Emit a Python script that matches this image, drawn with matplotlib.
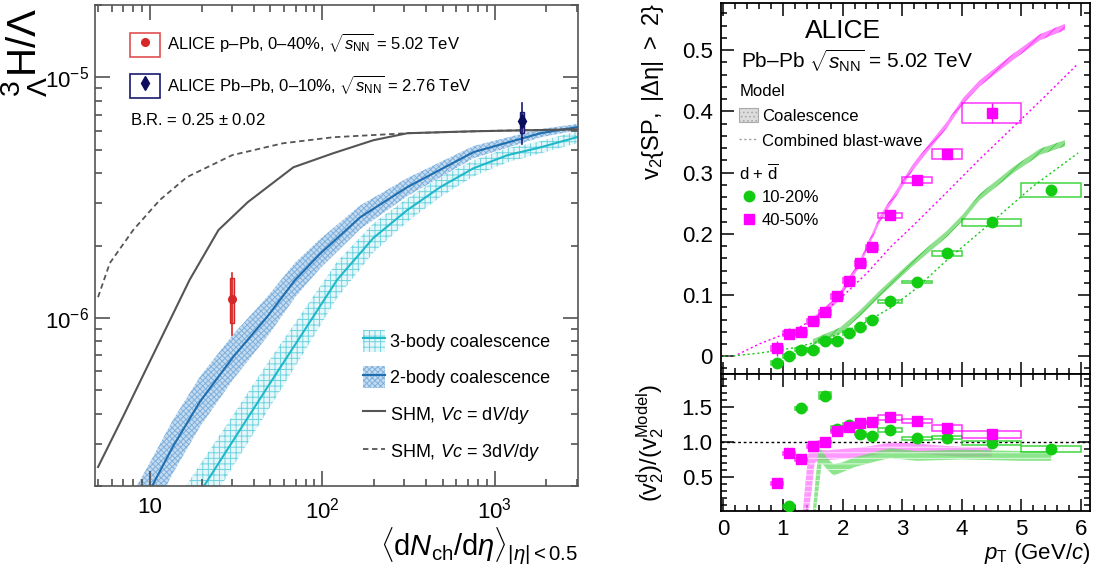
import numpy as np
import matplotlib.pyplot as plt
from matplotlib.patches import Rectangle
from matplotlib.lines import Line2D
from matplotlib.legend_handler import HandlerTuple
from matplotlib.ticker import MultipleLocator, NullFormatter

plt.rcParams['font.family'] = ['Liberation Sans', 'DejaVu Sans']
plt.rcParams['mathtext.fontset'] = 'custom'
plt.rcParams['mathtext.rm'] = 'Liberation Sans'
plt.rcParams['mathtext.it'] = 'Liberation Sans:italic'
plt.rcParams['mathtext.bf'] = 'Liberation Sans:bold'
plt.rcParams['hatch.linewidth'] = 0.7

# ---------------- left panel data ----------------
ppb_x = [30.0]
ppb_y = [1.2e-6]
ppb_stat = [(0.85e-6, 1.54e-6)]
ppb_sys = [(0.95e-6, 1.47e-6)]

pbpb_x = [1450.0]
pbpb_y = [6.6e-6]
pbpb_stat = [(5.3e-6, 7.8e-6)]
pbpb_sys = [(5.85e-6, 7.2e-6)]

shm_x = [5, 7, 10, 17, 25, 37, 68, 116, 198, 312, 755, 3000]
shm_y = [2.4e-7, 3.9e-7, 6.6e-7, 1.44e-6, 2.32e-6, 3.03e-6, 4.23e-6, 4.84e-6,
         5.48e-6, 5.86e-6, 5.97e-6, 6.08e-6]

shm3_x = [5, 5.85, 8, 11.4, 16.4, 30, 59, 116, 312, 1000, 3000]
shm3_y = [1.22e-6, 1.69e-6, 2.32e-6, 3.09e-6, 3.85e-6, 4.75e-6, 5.32e-6,
          5.64e-6, 5.86e-6, 6.0e-6, 6.08e-6]

body2_x = [7, 10.3, 13.6, 19.5, 30.4, 47.9, 69.7, 97.3, 166, 312, 755, 1849, 3000]
body2_y = [1.2e-7, 2.0e-7, 2.92e-7, 4.48e-7, 6.88e-7, 1.01e-6, 1.44e-6, 1.85e-6,
           2.62e-6, 3.50e-6, 4.89e-6, 5.86e-6, 6.21e-6]
body2_f = [1.32, 1.30, 1.29, 1.27, 1.24, 1.21, 1.18, 1.15, 1.12, 1.09, 1.06, 1.04, 1.03]

body3_x = [14, 20.6, 30.4, 47.9, 74.5, 122, 198, 312, 485, 755, 1191, 1849, 3000]
body3_y = [1.3e-7, 2.0e-7, 3.09e-7, 5.13e-7, 8.34e-7, 1.44e-6, 2.15e-6, 2.81e-6,
           3.50e-6, 4.19e-6, 4.75e-6, 5.12e-6, 5.64e-6]
body3_f = [1.32, 1.30, 1.28, 1.26, 1.23, 1.19, 1.15, 1.12, 1.10, 1.08, 1.07, 1.06, 1.06]

# ---------------- right panel data ----------------
pt_mag = [0.9, 1.1, 1.3, 1.5, 1.7, 1.9, 2.1, 2.3, 2.5, 2.8, 3.25, 3.75, 4.5]
v2_mag = [0.013, 0.037, 0.039, 0.057, 0.072, 0.098, 0.123, 0.152, 0.178, 0.230,
          0.288, 0.330, 0.397]
stat_mag = [0.012, 0.009, 0.006, 0.005, 0.004, 0.004, 0.004, 0.004, 0.004, 0.004,
            0.004, 0.006, 0.016]
sys_mag = [0.004, 0.004, 0.004, 0.004, 0.004, 0.004, 0.004, 0.004, 0.004, 0.004,
           0.005, 0.008, 0.016]
hw_mag = [0.1, 0.1, 0.1, 0.1, 0.1, 0.1, 0.1, 0.1, 0.1, 0.2, 0.25, 0.25, 0.5]

pt_grn = [0.9, 1.1, 1.3, 1.5, 1.7, 1.9, 2.1, 2.3, 2.5, 2.8, 3.25, 3.75, 4.5, 5.5]
v2_grn = [-0.011, 0.0, 0.011, 0.010, 0.025, 0.025, 0.038, 0.047, 0.060, 0.090,
          0.121, 0.168, 0.219, 0.271]
stat_grn = [0.007, 0.005, 0.004, 0.003, 0.003, 0.003, 0.003, 0.003, 0.003, 0.003,
            0.003, 0.003, 0.004, 0.006]
sys_grn = [0.003, 0.003, 0.003, 0.003, 0.003, 0.003, 0.003, 0.003, 0.003, 0.0025,
           0.002, 0.004, 0.0055, 0.0115]
hw_grn = [0.1, 0.1, 0.1, 0.1, 0.1, 0.1, 0.1, 0.1, 0.1, 0.2, 0.25, 0.25, 0.5, 0.5]

coal_mag_pt = [1.5, 1.9, 2.29, 2.63, 3.18, 3.75, 4.03, 4.3, 4.86, 5.31, 5.73]
coal_mag_v2 = [0.058, 0.092, 0.152, 0.225, 0.309, 0.378, 0.418, 0.446, 0.489, 0.521, 0.538]
coal_grn_pt = [1.5, 1.96, 2.29, 2.63, 3.15, 3.75, 4.02, 4.3, 4.86, 5.31, 5.73]
coal_grn_v2 = [0.023, 0.042, 0.070, 0.103, 0.150, 0.200, 0.227, 0.260, 0.304, 0.334, 0.348]

bw_mag_pt = [0, 0.2, 0.6, 1.2, 1.6, 2.0, 2.4, 2.8, 3.2, 3.75, 4.3, 4.9, 5.4, 5.95]
bw_mag_v2 = [0, 0.001, 0.020, 0.043, 0.066, 0.098, 0.135, 0.178, 0.215, 0.268,
             0.322, 0.378, 0.425, 0.478]
bw_grn_pt = [0, 0.2, 0.6, 1.2, 1.6, 2.0, 2.4, 2.8, 3.2, 3.75, 4.5, 5.2, 5.95]
bw_grn_v2 = [0, 0.001, 0.005, 0.014, 0.024, 0.039, 0.056, 0.079, 0.108, 0.157,
             0.219, 0.278, 0.332]

# ratio panel
rat_pt_mag = [0.9, 1.1, 1.3, 1.5, 1.7, 1.9, 2.1, 2.3, 2.5, 2.8, 3.25, 3.75, 4.5]
rat_mag = [0.41, 0.84, 0.75, 0.94, 1.0, 1.15, 1.21, 1.27, 1.28, 1.35, 1.30, 1.20, 1.11]
rat_mag_sys = [0.02, 0.02, 0.02, 0.02, 0.02, 0.02, 0.02, 0.02, 0.02, 0.03, 0.03, 0.04, 0.05]
rat_pt_grn = [1.1, 1.3, 1.7, 1.9, 2.1, 2.3, 2.5, 2.8, 3.25, 3.75, 4.5, 5.5]
rat_grn = [0.08, 1.48, 1.66, 1.19, 1.24, 1.12, 1.09, 1.17, 1.05, 1.06, 0.98, 0.90]
rat_grn_sys = [0.02, 0.02, 0.05, 0.04, 0.03, 0.02, 0.02, 0.03, 0.02, 0.02, 0.03, 0.04]
rat_hw_grn = [0.1, 0.1, 0.1, 0.1, 0.1, 0.1, 0.1, 0.2, 0.25, 0.25, 0.5, 0.5]

rband_mag_pt = [1.33, 1.38, 1.43, 1.48, 1.53, 1.6, 1.75, 2.0, 2.3, 2.6, 2.8, 3.25, 3.6, 4.0, 4.5]
rband_mag_hi = [0.0, 0.45, 0.85, 0.90, 0.90, 0.89, 0.88, 0.90, 0.92, 0.96, 0.99, 0.98, 0.95, 0.93, 0.93]
rband_mag_lo = [0.0, 0.0, 0.0, 0.30, 0.70, 0.74, 0.74, 0.76, 0.78, 0.82, 0.85, 0.84, 0.81, 0.79, 0.79]
rband_grn_pt = [1.50, 1.55, 1.60, 1.65, 1.75, 1.85, 2.0, 2.2, 2.5, 2.8, 3.25, 4.0, 4.5, 5.0, 5.5]
rband_grn_hi = [0.0, 0.5, 0.9, 0.88, 0.76, 0.68, 0.71, 0.78, 0.85, 0.91, 0.87, 0.89, 0.88, 0.87, 0.87]
rband_grn_lo = [0.0, 0.0, 0.35, 0.70, 0.60, 0.52, 0.57, 0.64, 0.71, 0.77, 0.73, 0.75, 0.74, 0.73, 0.73]

MAG = '#ff00ff'
GRN = '#11cc11'

fig = plt.figure(figsize=(11.01, 5.74), dpi=100)
W, H = 1101, 574
ax1 = fig.add_axes([95 / W, 1 - 486 / H, 483 / W, 481 / H])
ax2 = fig.add_axes([721 / W, 1 - 374 / H, 369 / W, 371 / H])
ax3 = fig.add_axes([721 / W, 1 - 511 / H, 369 / W, 137 / H])

# ================= left panel =================
ax1.set_xscale('log')
ax1.set_yscale('log')

b3x = np.array(body3_x); b3y = np.array(body3_y); b3f = np.array(body3_f)
band3 = ax1.fill_between(b3x, b3y / b3f, b3y * b3f, facecolor='#e6f7fa',
                         edgecolor='#6fd3e0', hatch='+++', linewidth=0)
line3, = ax1.plot(b3x, b3y, color='#1fb8c9', lw=1.5)

b2x = np.array(body2_x); b2y = np.array(body2_y); b2f = np.array(body2_f)
band2 = ax1.fill_between(b2x, b2y / b2f, b2y * b2f, facecolor='#c5dcf0',
                         edgecolor='#7fb0dc', hatch='xxxxxx', linewidth=0)
line2, = ax1.plot(b2x, b2y, color='#1f6eb0', lw=1.5)

shm1, = ax1.plot(shm_x, shm_y, color='#555555', lw=1.5)
shm3, = ax1.plot(shm3_x, shm3_y, color='#555555', lw=1.3, ls=(0, (3, 2)))

for x, y, st, sy in zip(ppb_x, ppb_y, ppb_stat, ppb_sys):
    ax1.add_patch(Rectangle((x * 0.975, sy[0]), x * 0.05, sy[1] - sy[0],
                            facecolor='#eba3a3', edgecolor='#d62728', lw=1, zorder=4))
    ax1.plot([x, x], st, color='#d62728', lw=1.2, zorder=5)
    ax1.plot([x], [y], 'o', color='#d62728', ms=5.5, zorder=6)
for x, y, st, sy in zip(pbpb_x, pbpb_y, pbpb_stat, pbpb_sys):
    ax1.add_patch(Rectangle((x * 0.975, sy[0]), x * 0.05, sy[1] - sy[0],
                            facecolor='#8f8fc0', edgecolor='#1a1a70', lw=1, zorder=4))
    ax1.plot([x, x], st, color='#1a1a70', lw=1.2, zorder=5)
    ax1.plot([x], [y], 'd', color='#0d0d5e', ms=7, zorder=6)

ax1.set_xlim(4.8, 3050)
ax1.set_ylim(2e-7, 2e-5)
ax1.set_xticks([10, 100, 1000], ['10', r'$10^{2}$', r'$10^{3}$'])
ax1.set_yticks([1e-6, 1e-5], [r'$10^{-6}$', r'$10^{-5}$'])
ax1.xaxis.set_minor_formatter(NullFormatter())
ax1.yaxis.set_minor_formatter(NullFormatter())
ax1.tick_params(which='both', direction='in', top=True, right=True, labelsize=16,
                color='#444444', width=1.1)
ax1.tick_params(which='major', length=11)
ax1.tick_params(which='minor', length=5)
ax1.tick_params(axis='x', pad=8)
ax1.tick_params(axis='y', pad=4)
for s in ax1.spines.values():
    s.set_color('#555555')
    s.set_linewidth(1.2)

ax1.set_xlabel(r'$\langle \mathrm{d}N_{\mathrm{ch}}/\mathrm{d}\eta\rangle_{|\eta|<0.5}$',
               fontsize=21, loc='right')
ax1.xaxis.set_label_coords(1.0, -0.082)
ax1.set_ylabel(r'${}^{3}_{\Lambda}\mathrm{H}/\Lambda$', fontsize=29, loc='top')
ax1.yaxis.set_label_coords(-0.095, 0.995)

h_ppb = (Rectangle((0, 0), 1, 1, facecolor='none', edgecolor='#e05050', lw=1.2),
         Line2D([], [], marker='o', color='#d62728', ls='none', ms=5.5))
h_pbpb = (Rectangle((0, 0), 1, 1, facecolor='none', edgecolor='#1a1a70', lw=1.2),
          Line2D([], [], marker='d', color='#0d0d5e', ls='none', ms=7))
leg1 = ax1.legend([h_ppb, h_pbpb],
                  ['ALICE p–Pb, 0–40%, $\\sqrt{s_{\\mathrm{NN}}}$ = 5.02 TeV',
                   'ALICE Pb–Pb, 0–10%, $\\sqrt{s_{\\mathrm{NN}}}$ = 2.76 TeV'],
                  handler_map={tuple: HandlerTuple(ndivide=1)},
                  loc='upper left', bbox_to_anchor=(0.0725, 0.944), frameon=False,
                  fontsize=12, handlelength=1.8, handleheight=1.8,
                  handletextpad=0.4, labelspacing=1.0, borderpad=0, borderaxespad=0)
ax1.add_artist(leg1)
ax1.text(0.0725, 0.76, r'B.R. = 0.25 $\pm$ 0.02', transform=ax1.transAxes,
         fontsize=12, va='center', ha='left')

ax1.legend([(band3, line3), (band2, line2), shm1, shm3],
           ['3-body coalescence', '2-body coalescence',
            r'SHM, $Vc$ = d$V$/d$y$', r'SHM, $Vc$ = 3d$V$/d$y$'],
           loc='upper left', bbox_to_anchor=(0.555, 0.325), frameon=False,
           fontsize=13, handlelength=1.2, handleheight=1.5, handletextpad=0.3,
           labelspacing=0.8, borderpad=0, borderaxespad=0)


# ================= right panels =================
def sys_boxes(ax, x, y, hw, dy, color):
    for xi, yi, wi, di in zip(x, y, hw, dy):
        ax.add_patch(Rectangle((xi - wi, yi - di), 2 * wi, 2 * di, facecolor='none',
                               edgecolor=color, lw=1.1, alpha=0.8, zorder=3))


# model bands
cmp = np.array(coal_mag_pt); cmv = np.array(coal_mag_v2)
ax2.fill_between(cmp, cmv - 0.005, cmv + 0.005, facecolor='#ff88ff',
                 edgecolor='#ff33ff', hatch='////', linewidth=0, zorder=2)
cgp = np.array(coal_grn_pt); cgv = np.array(coal_grn_v2)
ax2.fill_between(cgp, cgv - 0.005, cgv + 0.005, facecolor='#8ee08e',
                 edgecolor='#44cc44', hatch='////', linewidth=0, zorder=2)
ax2.plot(bw_mag_pt, bw_mag_v2, color=MAG, lw=1.0, ls=(0, (1.5, 2)), zorder=2)
ax2.plot(bw_grn_pt, bw_grn_v2, color=GRN, lw=1.0, ls=(0, (1.5, 2)), zorder=2)

sys_boxes(ax2, pt_grn, v2_grn, hw_grn, sys_grn, GRN)
sys_boxes(ax2, pt_mag, v2_mag, hw_mag, sys_mag, MAG)
ax2.errorbar(pt_grn, v2_grn, yerr=stat_grn, fmt='o', color=GRN, ms=7.5, lw=1,
             capsize=0, zorder=4)
ax2.errorbar(pt_mag, v2_mag, yerr=stat_mag, fmt='s', color=MAG, ms=7.5, lw=1,
             capsize=0, zorder=5)

ax2.set_xlim(-0.04, 6.15)
ax2.set_ylim(-0.029, 0.577)
ax2.set_yticks([0, 0.1, 0.2, 0.3, 0.4, 0.5], ['0', '0.1', '0.2', '0.3', '0.4', '0.5'])
ax2.yaxis.set_minor_locator(MultipleLocator(0.02))
ax2.set_xticks(range(7))
ax2.xaxis.set_minor_locator(MultipleLocator(0.2))
ax2.tick_params(labelbottom=False)
ax2.set_ylabel(r'$\mathrm{v}_{2}\{\mathrm{SP},\ |\Delta\mathrm{\eta}|\ >\ 2\}$', fontsize=17, loc='top')
ax2.yaxis.set_label_coords(-0.15, 1.0)

ax2.text(0.33, 0.925, 'ALICE', transform=ax2.transAxes, fontsize=19, ha='center', va='center')
ax2.text(0.055, 0.845, 'Pb–Pb $\\sqrt{s_{\\mathrm{NN}}}$ = 5.02 TeV', transform=ax2.transAxes,
         fontsize=15, ha='left', va='center')

h_coal = Rectangle((0, 0), 1, 1, facecolor='#dddddd', edgecolor='#aaaaaa',
                   hatch='....', lw=0.8)
h_bw = Line2D([], [], color='#999999', lw=1.0, ls=(0, (1.5, 2)))
legA = ax2.legend([h_coal, h_bw], ['Coalescence', 'Combined blast-wave'],
                  title='Model', alignment='left', title_fontsize=12,
                  loc='upper left', bbox_to_anchor=(0.05, 0.782), frameon=False,
                  fontsize=12, handlelength=1.1, handleheight=0.9, handletextpad=0.25,
                  labelspacing=0.55, borderpad=0, borderaxespad=0)
ax2.add_artist(legA)
h_g = Line2D([], [], marker='o', color=GRN, ls='none', ms=7.5)
h_m = Line2D([], [], marker='s', color=MAG, ls='none', ms=7.5)
ax2.legend([h_g, h_m], ['10-20%', '40-50%'], title=r'd + $\overline{\mathrm{d}}$',
           alignment='left', title_fontsize=12, loc='upper left',
           bbox_to_anchor=(0.05, 0.57), frameon=False, fontsize=12,
           handlelength=1.1, handletextpad=0.25, labelspacing=0.45,
           borderpad=0, borderaxespad=0)

# ratio panel
ax3.fill_between(rband_mag_pt, rband_mag_lo, rband_mag_hi, facecolor='#ff77ff',
                 edgecolor='#ffffff', hatch='---', linewidth=0, alpha=0.75, zorder=2)
ax3.fill_between(rband_grn_pt, rband_grn_lo, rband_grn_hi, facecolor='#66dd66',
                 edgecolor='#ffffff', hatch='---', linewidth=0, alpha=0.75, zorder=2)
ax3.axhline(1.0, color='black', lw=1.0, ls=(0, (2, 2)), zorder=1)

sys_boxes(ax3, rat_pt_grn, rat_grn, rat_hw_grn, rat_grn_sys, GRN)
sys_boxes(ax3, rat_pt_mag, rat_mag, hw_mag, rat_mag_sys, MAG)
ax3.plot(rat_pt_grn, rat_grn, 'o', color=GRN, ms=7.5, zorder=4)
ax3.plot(rat_pt_mag, rat_mag, 's', color=MAG, ms=7.5, zorder=5)

ax3.set_xlim(-0.04, 6.15)
ax3.set_ylim(0.014, 1.97)
ax3.set_xticks(range(7))
ax3.xaxis.set_minor_locator(MultipleLocator(0.2))
ax3.set_yticks([0.5, 1.0, 1.5], ['0.5', '1.0', '1.5'])
ax3.yaxis.set_minor_locator(MultipleLocator(0.1))
ax3.set_ylabel(r'$(\mathrm{v}_{2}^{\mathrm{d}})/(\mathrm{v}_{2}^{\mathrm{Model}})$', fontsize=17)
ax3.yaxis.set_label_coords(-0.15, 0.5)
ax3.set_xlabel(r'$p_{\mathrm{T}}$ (GeV/$c$)', fontsize=16, loc='right')
ax3.xaxis.set_label_coords(1.0, -0.22)

for ax in (ax2, ax3):
    ax.tick_params(which='both', direction='in', top=True, right=True, labelsize=16, width=1.1)
    ax.tick_params(which='major', length=9, pad=6)
    ax.tick_params(which='minor', length=4.5)
    for s in ax.spines.values():
        s.set_linewidth(1.3)

fig.savefig('out.png', dpi=100)
